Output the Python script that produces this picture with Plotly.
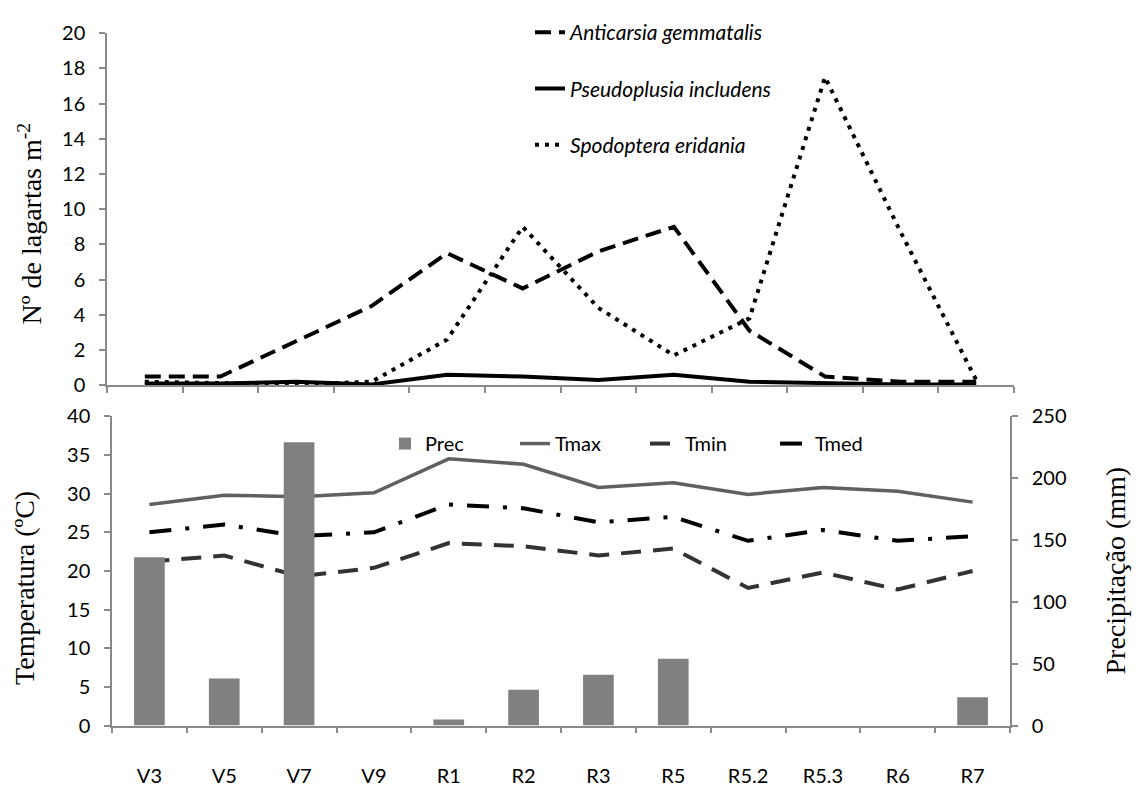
import plotly.graph_objects as go

stages = ["V3", "V5", "V7", "V9", "R1", "R2", "R3", "R5", "R5.2", "R5.3", "R6", "R7"]

anticarsia = [0.5, 0.5, 2.5, 4.5, 7.5, 5.5, 7.6, 9.0, 3.1, 0.5, 0.2, 0.2]
pseudoplusia = [0.1, 0.1, 0.2, 0.05, 0.6, 0.5, 0.3, 0.6, 0.2, 0.1, 0.05, 0.05]
spodoptera = [0.2, 0.1, 0.05, 0.2, 2.6, 9.0, 4.4, 1.7, 3.8, 17.5, 8.7, 0.3]

prec = [136, 38, 229, 0, 5, 29, 41, 54, 0, 0, 0, 23]
tmax = [28.6, 29.8, 29.6, 30.1, 34.5, 33.8, 30.8, 31.4, 29.9, 30.8, 30.3, 28.9]
tmin = [21.2, 22.0, 19.3, 20.4, 23.6, 23.2, 22.0, 22.9, 17.8, 19.8, 17.6, 20.0]
tmed = [25.0, 26.0, 24.5, 25.0, 28.6, 28.1, 26.3, 27.0, 23.9, 25.3, 23.9, 24.5]

W, H = 1136, 787
def px(x):
    return x / W
def py(y):
    return 1 - y / H

AX = "#898989"
SANS = "Lato, 'Open Sans', sans-serif"
TICKFONT = dict(family=SANS, size=20, color="#000")
SERIF = "Liberation Serif, 'Times New Roman', serif"

fig = go.Figure()

# top panel
fig.add_trace(go.Scatter(x=stages, y=anticarsia, mode="lines", name="<i>Anticarsia gemmatalis</i>",
                         line=dict(color="black", width=4, dash="16px,8px"),
                         xaxis="x", yaxis="y", legend="legend", legendgroup="a"))
fig.add_trace(go.Scatter(x=stages, y=pseudoplusia, mode="lines", name="<i>Pseudoplusia includens</i>",
                         line=dict(color="black", width=4),
                         xaxis="x", yaxis="y", legend="legend", legendgroup="b"))
fig.add_trace(go.Scatter(x=stages, y=spodoptera, mode="lines", name="<i>Spodoptera eridania</i>",
                         line=dict(color="black", width=4, dash="4px,6px"),
                         xaxis="x", yaxis="y", legend="legend", legendgroup="c"))

# bottom panel
fig.add_trace(go.Bar(x=stages, y=prec, name="Prec", marker=dict(color="#808080", line=dict(width=0)),
                     xaxis="x2", yaxis="y3", legend="legend2"))
fig.add_trace(go.Scatter(x=stages, y=tmax, mode="lines", name="Tmax",
                         line=dict(color="#606060", width=3.5),
                         xaxis="x2", yaxis="y2", legend="legend2"))
fig.add_trace(go.Scatter(x=stages, y=tmin, mode="lines", name="Tmin",
                         line=dict(color="#333333", width=4, dash="20px,12px"),
                         xaxis="x2", yaxis="y2", legend="legend2"))
fig.add_trace(go.Scatter(x=stages, y=tmed, mode="lines", name="Tmed",
                         line=dict(color="black", width=4, dash="22px,14px,4px,14px"),
                         xaxis="x2", yaxis="y2", legend="legend2"))

common_x = dict(type="category", range=[-0.5, 11.5], tickson="boundaries", ticks="outside",
                ticklen=6, tickcolor=AX, tickwidth=1.5, showline=True, linecolor=AX, linewidth=1.5,
                showgrid=False, zeroline=False, fixedrange=True)
common_y = dict(ticks="outside", ticklen=6, tickcolor=AX, tickwidth=1.5, showline=True,
                linecolor=AX, linewidth=1.5, showgrid=False, zeroline=False, tickfont=TICKFONT,
                ticklabelstandoff=10)

fig.update_layout(
    width=W, height=H,
    margin=dict(l=0, r=0, t=0, b=0),
    paper_bgcolor="white", plot_bgcolor="rgba(0,0,0,0)",
    bargap=0.59,
    xaxis=dict(common_x, domain=[px(107), px(1014)], anchor="y", showticklabels=False),
    yaxis=dict(common_y, domain=[py(384), py(20.7)], range=[0, 20], dtick=2, anchor="x"),
    xaxis2=dict(common_x, domain=[px(112), px(1010)], anchor="y2", tickfont=TICKFONT,
                ticklabelstandoff=32),
    yaxis2=dict(common_y, domain=[py(735), py(416)], range=[0, 40], dtick=5, anchor="x2"),
    yaxis3=dict(common_y, range=[0, 250], dtick=50, overlaying="y2", side="right", anchor="x2"),
    legend=dict(x=px(530), y=py(-1), xanchor="left", yanchor="top", orientation="v",
                font=dict(family=SANS, size=21, color="#000"),
                tracegroupgap=26, bgcolor="rgba(0,0,0,0)"),
    legend2=dict(x=px(385), y=py(424), xanchor="left", yanchor="top", orientation="h",
                 font=dict(family=SANS, size=20, color="#000"),
                 entrywidth=85, entrywidthmode="pixels", bgcolor="rgba(0,0,0,0)"),
    annotations=[
        dict(text="Nº de lagartas m<sup>-2</sup>", x=px(30), y=py(217), xref="paper", yref="paper",
             xanchor="center", yanchor="middle",
             textangle=-90, showarrow=False, font=dict(family=SERIF, size=28, color="#000")),
        dict(text="Temperatura (ºC)", x=px(25), y=py(593), xref="paper", yref="paper",
             xanchor="center", yanchor="middle",
             textangle=-90, showarrow=False, font=dict(family=SERIF, size=28, color="#000")),
        dict(text="Precipitação (mm)", x=px(1115), y=py(575), xref="paper", yref="paper",
             xanchor="center", yanchor="middle",
             textangle=-90, showarrow=False, font=dict(family=SERIF, size=28, color="#000")),
    ],
)

fig.write_html("out.html")
